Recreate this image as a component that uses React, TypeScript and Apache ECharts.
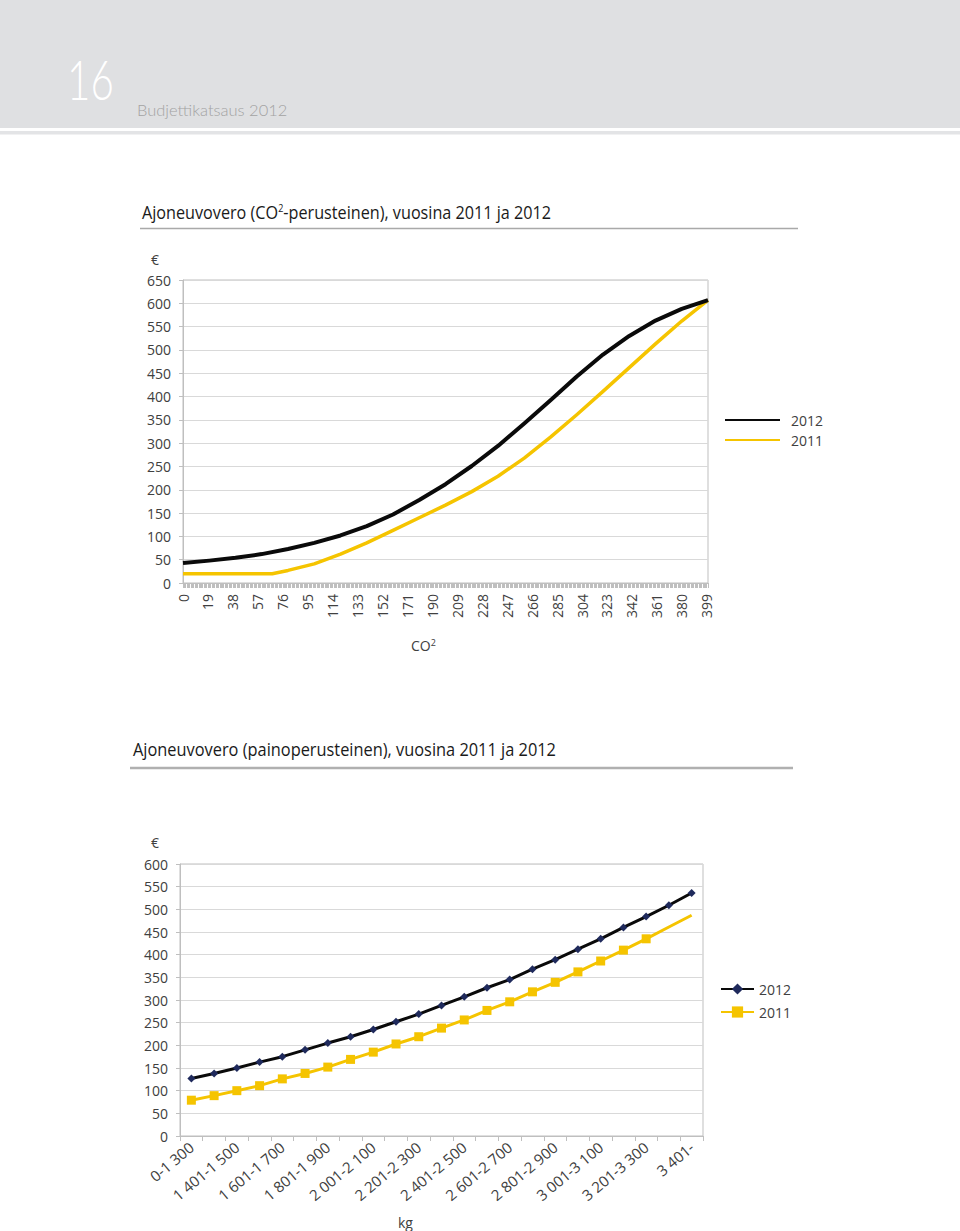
import React, { useEffect, useRef } from 'react';
import * as echarts from 'echarts';

// ---- Chart 1: CO2-based tax ----
const co2Points2012 = [0, 20, 40, 60, 80, 100, 120, 140, 160, 180, 200, 220, 240, 260, 280, 300, 320, 340, 360, 380, 400];
const co2Tax2012 = [43, 48, 54, 62, 73, 86, 102, 122, 147, 178, 212, 251, 294, 342, 392, 443, 490, 530, 563, 588, 607];
const co2Points2011 = [0, 20, 40, 60, 68, 80, 100, 120, 140, 160, 180, 200, 220, 240, 260, 280, 300, 320, 340, 360, 380, 400];
const co2Tax2011 = [20, 20, 20, 20, 20, 27, 41, 62, 86, 113, 140, 167, 196, 229, 268, 313, 361, 411, 462, 513, 562, 607];

// ---- Chart 2: weight-based tax ----
const weightCategories = [
  '0-1 300', '1 301-1 400', '1 401-1 500', '1 501-1 600', '1 601-1 700', '1 701-1 800',
  '1 801-1 900', '1 901-2 000', '2 001-2 100', '2 101-2 200', '2 201-2 300', '2 301-2 400',
  '2 401-2 500', '2 501-2 600', '2 601-2 700', '2 701-2 800', '2 801-2 900', '2 901-3 000',
  '3 001-3 100', '3 101-3 200', '3 201-3 300', '3 301-3 400', '3 401-',
];
const weightTax2012 = [127, 138, 150, 163, 175, 190, 205, 219, 235, 252, 269, 288, 307, 327, 345, 368, 389, 412, 435, 460, 484, 509, 536];
const weightTax2011 = [79, 89, 100, 111, 126, 138, 152, 169, 185, 203, 219, 238, 256, 277, 296, 318, 339, 362, 386, 410, 435, 461, 487];
const weight2011MarkerCount = 21;

const FONT = '"Open Sans", "Noto Sans", sans-serif';
const LABEL = '#404040';
const GRID = '#d9d9d9';
const AXIS = '#bfbfbf';
const BLACK = '#0a0a0a';
const YELLOW = '#f5c400';

export default function App() {
  const ref = useRef<HTMLDivElement>(null);

  useEffect(() => {
    if (!ref.current) return;
    const chart = echarts.init(ref.current, null, { renderer: 'svg' });

    const titleRich = {
      a: { fontSize: 18, fontFamily: FONT, fill: '#1a1a1a' },
      s: { fontSize: 10, fontFamily: FONT, fill: '#1a1a1a', verticalAlign: 'top' },
    };

    const option: any = {
      animation: false,
      backgroundColor: '#ffffff',
      textStyle: { fontFamily: FONT },
      graphic: [
        { type: 'rect', shape: { x: 0, y: 0, width: 960, height: 128 }, style: { fill: '#dfe0e2' }, silent: true },
        { type: 'rect', shape: { x: 0, y: 131, width: 960, height: 3.5 }, style: { fill: '#e3e4e6' }, silent: true },
        {
          type: 'text', x: 67, y: 106, scaleX: 0.72,
          style: { text: '16', fontSize: 56, fontFamily: 'Lato, ' + FONT, fontWeight: 300, fill: '#ffffff', verticalAlign: 'bottom' },
        },
        {
          type: 'text', x: 137, y: 118, scaleX: 1.03,
          style: { text: 'Budjettikatsaus 2012', fontSize: 16, fontFamily: 'Lato, ' + FONT, fontWeight: 300, fill: '#a3a3a3', verticalAlign: 'bottom' },
        },
        {
          type: 'text', x: 142, y: 212, scaleX: 0.9,
          style: { text: '{a|Ajoneuvovero (CO}{s|2}{a|-perusteinen), vuosina 2011 ja 2012}', rich: titleRich, verticalAlign: 'middle' },
        },
        { type: 'line', shape: { x1: 140, y1: 228.5, x2: 798, y2: 228.5 }, style: { stroke: '#a9a9a9', lineWidth: 1.5 } },
        {
          type: 'text', x: 151, y: 259,
          style: { text: '€', fontSize: 14, fontFamily: FONT, fill: LABEL, verticalAlign: 'middle' },
        },
        {
          type: 'text', x: 411, y: 645,
          style: {
            text: '{a|CO}{s|2}',
            rich: {
              a: { fontSize: 14, fontFamily: FONT, fill: LABEL },
              s: { fontSize: 9, fontFamily: FONT, fill: LABEL, verticalAlign: 'top' },
            },
            verticalAlign: 'middle',
          },
        },
        {
          type: 'text', x: 133, y: 749, scaleX: 0.91,
          style: { text: 'Ajoneuvovero (painoperusteinen), vuosina 2011 ja 2012', fontSize: 18, fontFamily: FONT, fill: '#1a1a1a', verticalAlign: 'middle' },
        },
        { type: 'line', shape: { x1: 130, y1: 768, x2: 793, y2: 768 }, style: { stroke: '#b0b0b0', lineWidth: 2.5 } },
        {
          type: 'text', x: 151, y: 842,
          style: { text: '€', fontSize: 14, fontFamily: FONT, fill: LABEL, verticalAlign: 'middle' },
        },
        {
          type: 'text', x: 398, y: 1222,
          style: { text: 'kg', fontSize: 14, fontFamily: FONT, fill: LABEL, verticalAlign: 'middle' },
        },
      ],
      legend: [
        {
          orient: 'vertical', left: 724, top: 413, padding: 0, itemWidth: 55, itemHeight: 14, itemGap: 6,
          data: ['co2-2012', 'co2-2011'],
          formatter: (n: string) => n.split('-')[1],
          itemStyle: { opacity: 0 },
          textStyle: { fontSize: 14, color: LABEL, fontFamily: FONT, padding: [0, 0, 0, 6] },
          selectedMode: false,
        },
        {
          orient: 'vertical', left: 720, top: 982, padding: 0, itemWidth: 33, itemHeight: 14, itemGap: 9,
          data: ['kg-2012', 'kg-2011'],
          formatter: (n: string) => n.split('-')[1],
          textStyle: { fontSize: 14, color: LABEL, fontFamily: FONT },
          selectedMode: false,
        },
      ],
      grid: [
        { left: 183, top: 280, width: 525, height: 303, show: true, borderColor: AXIS, borderWidth: 1, containLabel: false },
        { left: 180, top: 864, width: 523, height: 272, show: true, borderColor: AXIS, borderWidth: 1, containLabel: false },
      ],
      xAxis: [
        {
          type: 'value', gridIndex: 0, min: 0, max: 400, interval: 19,
          axisLine: { show: true, lineStyle: { color: AXIS } },
          axisTick: { show: true, length: 5, lineStyle: { color: AXIS } },
          minorTick: { show: true, splitNumber: 19, length: 5, lineStyle: { color: AXIS } },
          splitLine: { show: false },
          axisLabel: {
            rotate: 90, fontSize: 14, color: LABEL, fontFamily: FONT, margin: 11,
            formatter: (v: number) => (v % 19 === 0 ? String(v) : ''),
          },
        },
        {
          type: 'category', gridIndex: 1, data: weightCategories, boundaryGap: true,
          axisLine: { show: true, lineStyle: { color: AXIS } },
          axisTick: { show: true, interval: 0, length: 5, lineStyle: { color: AXIS } },
          splitLine: { show: false },
          axisLabel: { interval: 1, rotate: 40, fontSize: 15, color: LABEL, fontFamily: FONT, margin: 9 },
        },
      ],
      yAxis: [
        {
          type: 'value', gridIndex: 0, min: 0, max: 650, interval: 50,
          axisLine: { show: true, lineStyle: { color: AXIS } },
          axisTick: { show: true, length: 4, lineStyle: { color: AXIS } },
          splitLine: { show: true, lineStyle: { color: GRID } },
          axisLabel: { fontSize: 14, color: LABEL, fontFamily: FONT, margin: 12 },
        },
        {
          type: 'value', gridIndex: 1, min: 0, max: 600, interval: 50,
          axisLine: { show: true, lineStyle: { color: AXIS } },
          axisTick: { show: true, length: 4, lineStyle: { color: AXIS } },
          splitLine: { show: true, lineStyle: { color: GRID } },
          axisLabel: { fontSize: 14, color: LABEL, fontFamily: FONT, margin: 12 },
        },
      ],
      series: [
        {
          name: 'co2-2012', type: 'line', xAxisIndex: 0, yAxisIndex: 0,
          data: co2Points2012.map((x, i) => [x, co2Tax2012[i]]),
          symbol: 'none', showSymbol: false, smooth: false,
          color: BLACK, lineStyle: { color: BLACK, width: 4, join: 'round' }, z: 3,
        },
        {
          name: 'co2-2011', type: 'line', xAxisIndex: 0, yAxisIndex: 0,
          data: co2Points2011.map((x, i) => [x, co2Tax2011[i]]),
          symbol: 'none', showSymbol: false, smooth: false,
          color: YELLOW, lineStyle: { color: YELLOW, width: 3.5, join: 'round' }, z: 2,
        },
        {
          name: 'kg-2012', type: 'line', xAxisIndex: 1, yAxisIndex: 1,
          data: weightTax2012,
          symbol: 'diamond', symbolSize: 8,
          itemStyle: { color: '#1f2a5c' },
          lineStyle: { color: BLACK, width: 3 }, z: 3,
        },
        {
          name: 'kg-2011', type: 'line', xAxisIndex: 1, yAxisIndex: 1,
          data: weightTax2011.map((v, i) => (i < weight2011MarkerCount ? v : { value: v, symbol: 'none' })),
          symbol: 'rect', symbolSize: 9,
          itemStyle: { color: YELLOW },
          lineStyle: { color: YELLOW, width: 3 }, z: 2,
        },
      ],
    };

    chart.setOption(option);
    return () => chart.dispose();
  }, []);

  return (
    <div
      ref={ref}
      style={{ position: 'absolute', left: 0, top: 0, width: 960, height: 1231, background: '#fff' }}
    />
  );
}
